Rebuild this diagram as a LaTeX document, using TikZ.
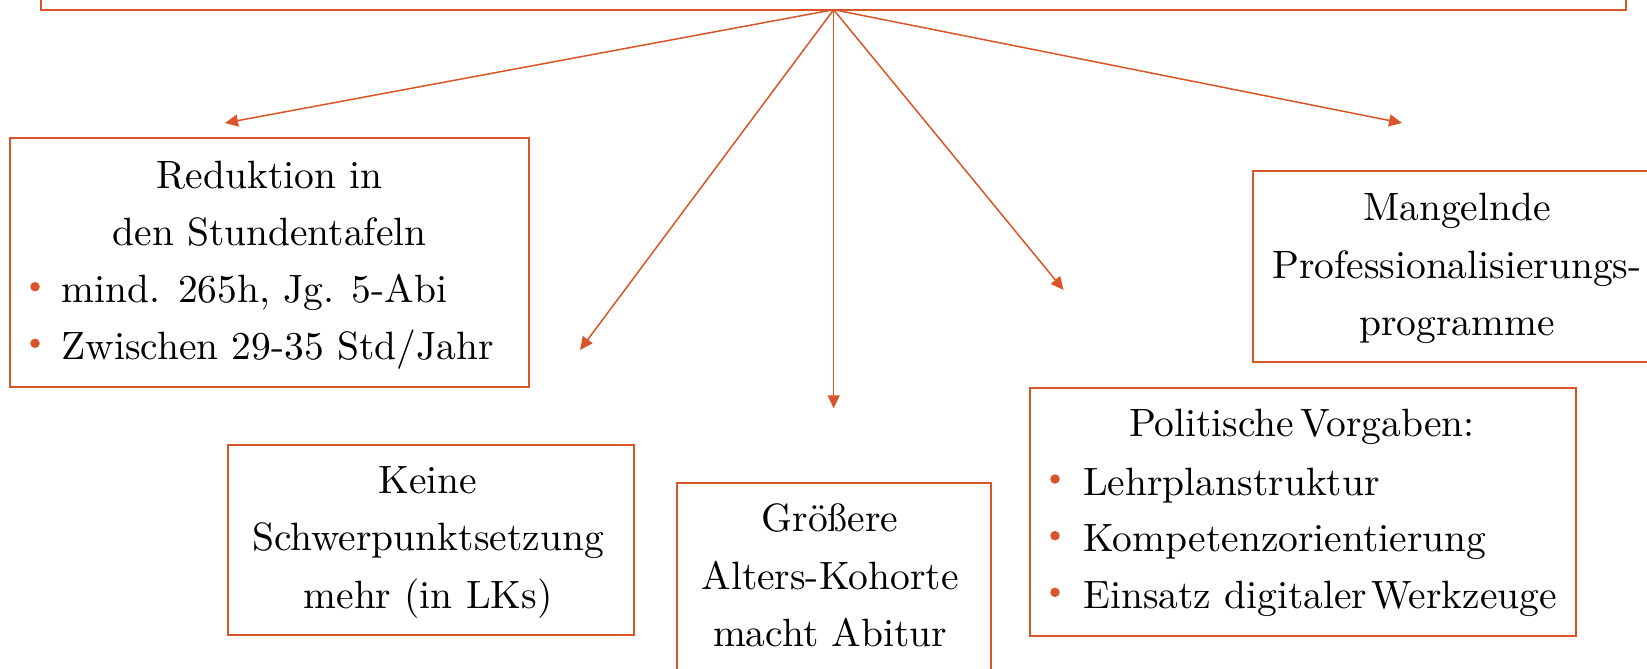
\documentclass[tikz,border=0pt]{standalone}
\usepackage{fontspec}
\setmainfont{lmroman10-regular.otf}
\usetikzlibrary{arrows.meta}
\definecolor{acc}{RGB}{217,84,39}
\begin{document}
\begin{tikzpicture}[x=1pt,y=-1pt,
  box/.style={draw=acc, line width=2pt, rectangle, inner sep=0pt, outer sep=0pt},
  txt/.style={inner sep=0pt, outer sep=0pt, font=\fontsize{39.5}{57}\selectfont, anchor=base},
  ltxt/.style={txt, anchor=base west},
  bul/.style={circle, fill=acc, inner sep=0pt, minimum size=9.5pt},
  arr/.style={draw=acc, line width=1.5pt, -{Triangle[length=13pt,width=12pt]}}]
\useasboundingbox (0,0) rectangle (1647,669);
\clip (0,0) rectangle (1647,669);
% boxes
\node[box, minimum width=1584.7pt, minimum height=120pt] (top) at (833.65,-50.3) {};
\node[box, minimum width=519pt, minimum height=248.4pt] (red) at (269.5,262.5) {};
\node[box, minimum width=409.7pt, minimum height=191.6pt] (mang) at (1458.2,266.5) {};
\node[box, minimum width=406pt, minimum height=190pt] (keine) at (431.3,540) {};
\node[box, minimum width=313.4pt, minimum height=190.7pt] (gross) at (834,578) {};
\node[box, minimum width=546pt, minimum height=247.4pt] (pol) at (1303,512) {};
% arrows
\coordinate (e1) at (225,123);
\coordinate (e2) at (580,350);
\coordinate (e3) at (833.65,408.3);
\coordinate (e4) at (1063.6,290);
\coordinate (e5) at (1402,123);
\draw[arr] (top.south) -- (e1);
\draw[arr] (top.south) -- (e2);
\draw[arr] (top.south) -- (e3);
\draw[arr] (top.south) -- (e4);
\draw[arr] (top.south) -- (e5);
% Reduktion
\node[txt] (r1) at (269.5,188.3) {Reduktion in};
\node[txt] (r2) at (269.5,245) {den Stundentafeln};
\node[bul] (rb1) at (35,286.7) {};
\node[ltxt] (r3) at (61.7,302.7) {mind. 265h, Jg. 5-Abi};
\node[bul] (rb2) at (35,343.3) {};
\node[ltxt] (r4) at (61.7,359.3) {Zwischen 29-35 Std/Jahr};
% Mangelnde
\node[txt] (m1) at (1457,220) {Mangelnde};
\node[txt] (m2) at (1457,278.3) {Professionalisierungs-};
\node[txt] (m3) at (1457,335) {programme};
% Keine
\node[txt] (k1) at (428,493.3) {Keine};
\node[txt] (k2) at (428,550) {Schwerpunktsetzung};
\node[txt] (k3) at (428,608.3) {mehr (in LKs)};
% Groessere
\node[txt] (g1) at (830,531.7) {Größere};
\node[txt] (g2) at (830,589.3) {Alters-Kohorte};
\node[txt] (g3) at (830,646.7) {macht Abitur};
% Politische
\node[txt] (p1) at (1302,436.7) {Politische\hspace{0.15em}Vorgaben:};
\node[bul] (pb1) at (1055,479) {};
\node[ltxt] (p2) at (1083.3,495) {Lehrplanstruktur};
\node[bul] (pb2) at (1055,535.7) {};
\node[ltxt] (p3) at (1083.3,551.7) {Kompetenzorientierung};
\node[bul] (pb3) at (1055,592.3) {};
\node[ltxt] (p4) at (1083.3,608.3) {Einsatz digitaler\hspace{0.1em}Werkzeuge};
\end{tikzpicture}
\end{document}
